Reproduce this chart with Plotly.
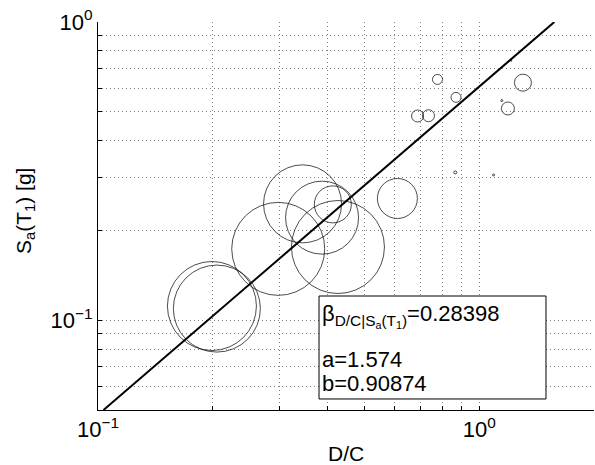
import plotly.graph_objects as go

# ---- data ----
dc_values = [0.199, 0.205, 0.297, 0.344, 0.387, 0.413, 0.426, 0.610,
             0.777, 0.869, 0.689, 0.736, 1.302, 1.189, 0.865, 1.090, 1.146, 1.213]
sa_values = [0.1116, 0.1094, 0.1735, 0.2456, 0.2208, 0.2446, 0.176, 0.256,
             0.642, 0.559, 0.484, 0.485, 0.626, 0.513, 0.313, 0.307, 0.545, 0.741]
bubble_diam = [89, 87, 93, 78, 73, 37, 93, 40, 10, 10, 12, 12, 17, 13, 3, 2, 2, 1]

fit_line_dc = [0.1034, 1.574]
fit_line_sa = [0.05, 1.0]

beta_value = "0.28398"
a_value = "1.574"
b_value = "0.90874"

x_tickvals = [0.1, 0.2, 0.3, 0.4, 0.5, 0.6, 0.7, 0.8, 0.9, 1, 2]
x_ticktext = ["10<sup>\u22121</sup>", "", "", "", "", "", "", "", "", "10<sup>0</sup>", ""]
y_tickvals = [0.05, 0.06, 0.07, 0.08, 0.09, 0.1, 0.2, 0.3, 0.4, 0.5, 0.6, 0.7, 0.8, 0.9, 1]
y_ticktext = ["", "", "", "", "", "10<sup>\u22121</sup>", "", "", "", "", "", "", "", "", "10<sup>0</sup>"]

FONT = "Liberation Sans, Arial, Helvetica, sans-serif"

fig = go.Figure()
fig.add_trace(go.Scatter(
    x=dc_values, y=sa_values, mode="markers",
    marker=dict(symbol="circle-open", size=bubble_diam, color="black",
                line=dict(color="black", width=1)),
    showlegend=False, cliponaxis=True,
))
fig.add_trace(go.Scatter(
    x=fit_line_dc, y=fit_line_sa, mode="lines",
    line=dict(color="black", width=2), showlegend=False,
))

axis_common = dict(
    type="log", showline=True, linecolor="black", linewidth=1,
    ticks="inside", ticklen=4, tickcolor="black", tickwidth=1,
    showgrid=True, gridcolor="#808080", griddash="1px,3px", gridwidth=1,
    zeroline=False, mirror=False,
    tickfont=dict(family=FONT, size=22, color="black"),
)
fig.update_xaxes(**axis_common, range=[-1, 0.30103],
                 tickmode="array", tickvals=x_tickvals, ticktext=x_ticktext)
fig.update_yaxes(**axis_common, range=[-1.30103, 0],
                 tickmode="array", tickvals=y_tickvals, ticktext=y_ticktext)

# text box
fig.add_shape(type="rect", xref="paper", yref="paper",
              x0=0.4456, x1=0.9032, y0=0.0284, y1=0.2938,
              line=dict(color="black", width=1), fillcolor="white", layer="above")

ann_font = dict(family=FONT, size=22, color="black")
fig.add_annotation(xref="paper", yref="paper", x=0.4476, y=0.243,
                   xanchor="left", yanchor="middle", showarrow=False, font=ann_font,
                   text="\u03b2<sub>D/C|S<sub>a</sub>(T<sub>1</sub>)</sub>=" + beta_value)
fig.add_annotation(xref="paper", yref="paper", x=0.4476, y=0.131,
                   xanchor="left", yanchor="middle", showarrow=False, font=ann_font,
                   text="a=" + a_value)
fig.add_annotation(xref="paper", yref="paper", x=0.4476, y=0.069,
                   xanchor="left", yanchor="middle", showarrow=False, font=ann_font,
                   text="b=" + b_value)

# axis titles
fig.add_annotation(xref="paper", yref="paper", x=0.5, y=-0.1134,
                   xanchor="center", yanchor="middle", showarrow=False,
                   font=dict(family=FONT, size=21, color="black"), text="D/C")
fig.add_annotation(xref="paper", yref="paper", x=-0.1472, y=0.513,
                   xanchor="center", yanchor="middle", showarrow=False, textangle=-90,
                   font=dict(family=FONT, size=21, color="black"),
                   text="S<sub>a</sub>(T<sub>1</sub>) [g]")

fig.update_layout(
    width=595, height=465,
    margin=dict(l=98, r=1, t=22, b=55),
    plot_bgcolor="white", paper_bgcolor="white",
    font=dict(family=FONT, color="black"),
)

fig.write_html("out.html")
